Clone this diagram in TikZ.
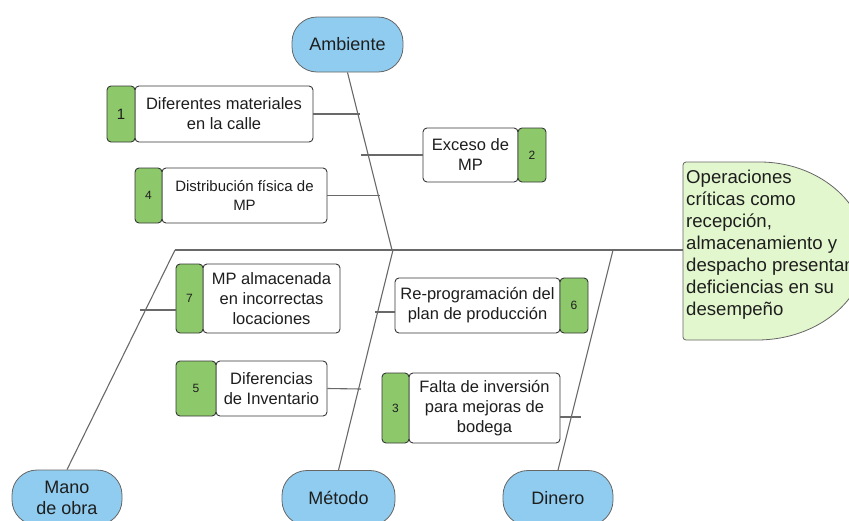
\documentclass[tikz,border=0pt]{standalone}
\usepackage{fontspec}
\setmainfont{Liberation Sans}
\definecolor{bluefill}{RGB}{143,204,239}
\definecolor{greenfill}{RGB}{141,201,107}
\definecolor{headfill}{RGB}{226,247,205}
\definecolor{boxline}{RGB}{55,55,55}
\definecolor{linec}{RGB}{105,105,105}
\definecolor{textc}{RGB}{30,30,30}
\begin{document}
\begin{tikzpicture}[x=1pt,y=-1pt,
  bubble/.style={draw=black!60, fill=bluefill, rounded corners=25pt, minimum width=111pt, minimum height=55pt, inner sep=0pt, align=center, text=textc, font=\fontsize{18}{21}\selectfont, line width=0.8pt},
  wbox/.style={draw=boxline, fill=white, rounded corners=4pt, inner sep=0pt, align=center, text=textc, font=\fontsize{16.5}{20}\selectfont, line width=0.9pt},
  gtab/.style={draw=boxline, fill=greenfill, rounded corners=4pt, inner sep=0pt, text=textc, font=\fontsize{12}{14}\selectfont, line width=0.9pt},
  bone/.style={draw=linec, line width=1.1pt}]
\useasboundingbox (0,0) rectangle (849,520);
\clip (0,0) rectangle (849,520);

% head
\path[draw=black!60, fill=headfill, line width=0.8pt, rounded corners=3pt]
  (683,250) -- (683,162) -- (757,162) [sharp corners] arc[start angle=-90, end angle=90, x radius=109, y radius=89] [rounded corners=3pt] -- (683,340) -- cycle;
\node[anchor=north west, inner sep=0pt, align=left, text=textc, font=\fontsize{18.6}{22}\selectfont] (headtext) at (686,169.5)
  {Operaciones\\críticas como\\recepción,\\almacenamiento y\\despacho presentan\\deficiencias en su\\desempeño};
\coordinate (head) at (683,250);

% category bubbles
\node[bubble] (amb) at (347.5,44.5) {Ambiente};
\node[bubble, minimum width=110pt] (mano) at (67,497.5) {Mano\\de obra};
\node[bubble, minimum width=113pt] (met) at (338.5,498) {Método};
\node[bubble, minimum width=110pt] (din) at (558,498) {Dinero};

% spine and bones
\coordinate (sL) at (175,250);
\coordinate (s1) at (392,250);
\coordinate (s2) at (393,250);
\coordinate (s3) at (613,250);
\draw[bone] (sL) -- (head);
\draw[bone] (amb.south) -- (s1);
\draw[bone] (mano.north) -- (sL);
\draw[bone] (met.north) -- (s2);
\draw[bone] (din.north) -- (s3);

% cause boxes
\node[wbox, minimum width=178pt, minimum height=56pt] (w1) at (224,114) {Diferentes materiales\\en la calle};
\node[gtab, minimum width=28pt, minimum height=56pt, font=\fontsize{15}{17}\selectfont] (g1) at (121,114) {1};

\node[wbox, minimum width=95pt, minimum height=54pt] (w2) at (470.5,155) {Exceso de\\MP};
\node[gtab, minimum width=28pt, minimum height=54pt] (g2) at (532,155) {2};

\node[wbox, minimum width=165pt, minimum height=55pt, font=\fontsize{15}{19}\selectfont] (w4) at (244.5,195.5) {Distribución física de\\MP};
\node[gtab, minimum width=27pt, minimum height=55pt] (g4) at (148.5,195.5) {4};

\node[wbox, minimum width=137pt, minimum height=69pt] (w7) at (271.5,298.5) {MP almacenada\\en incorrectas\\locaciones};
\node[gtab, minimum width=27pt, minimum height=69pt] (g7) at (189.5,298.5) {7};

\node[wbox, minimum width=111pt, minimum height=55pt] (w5) at (271.5,388.5) {Diferencias\\de Inventario};
\node[gtab, minimum width=40pt, minimum height=55pt] (g5) at (196,388.5) {5};

\node[wbox, minimum width=165pt, minimum height=55pt] (w6) at (477.5,305.5) {Re-programación del\\plan de producción};
\node[gtab, minimum width=28pt, minimum height=55pt] (g6) at (574,305.5) {6};

\node[wbox, minimum width=151pt, minimum height=70pt] (w3) at (484.5,408) {Falta de inversión\\para mejoras de\\bodega};
\node[gtab, minimum width=27pt, minimum height=70pt] (g3) at (395.5,408) {3};

% connectors
\coordinate (c1) at (360,114);
\coordinate (c2) at (361,155);
\coordinate (c4) at (380,195.5);
\coordinate (c7) at (140,310);
\coordinate (c5) at (361,389);
\coordinate (c6) at (375,312);
\coordinate (c3) at (581,417);
\draw[bone] (w1.east) -- (c1);
\draw[bone] (c2) -- (w2.west);
\draw[bone] (w4.east) -- (c4);
\draw[bone] (c7) -- (c7 -| g7.west);
\draw[bone] (w5.east) -- (c5);
\draw[bone] (c6) -- (c6 -| w6.west);
\draw[bone] (c3 -| w3.east) -- (c3);
\end{tikzpicture}
\end{document}
